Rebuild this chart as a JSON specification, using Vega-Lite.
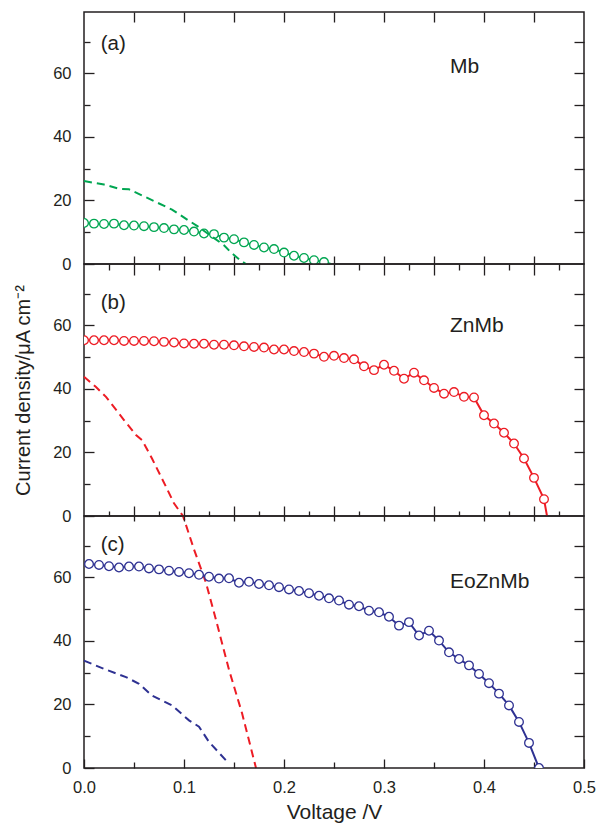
{
  "$schema": "https://vega.github.io/schema/vega-lite/v6.json",
  "padding": {"left": 12, "top": 10, "right": 5, "bottom": 0},
  "background": "white",
  "spacing": 0,
  "bounds": "flush",
  "config": {
    "font": "Liberation Sans",
    "view": {"stroke": "#231f20", "strokeWidth": 1.5},
    "axis": {"domain": false, "grid": false, "labelFlush": false, "labelFont": "Liberation Sans", "labelFontSize": 16.5, "labelColor": "#231f20", "tickColor": "#231f20", "tickWidth": 1.3, "titleFont": "Liberation Sans", "titleFontSize": 20, "titleFontWeight": "normal", "titleColor": "#231f20"},
    "text": {"font": "Liberation Sans", "color": "#231f20"}
  },
  "datasets": {
    "mb": [
      {"V": 0.0, "J": 12.9, "m": 1}, {"V": 0.01, "J": 12.7, "m": 1}, {"V": 0.02, "J": 12.6, "m": 1}, {"V": 0.03, "J": 12.7, "m": 1}, {"V": 0.04, "J": 12.2, "m": 1},
      {"V": 0.05, "J": 12.1, "m": 1}, {"V": 0.06, "J": 11.9, "m": 1}, {"V": 0.07, "J": 11.6, "m": 1}, {"V": 0.08, "J": 11.3, "m": 1}, {"V": 0.09, "J": 10.9, "m": 1},
      {"V": 0.1, "J": 10.7, "m": 1}, {"V": 0.11, "J": 10.2, "m": 1}, {"V": 0.12, "J": 9.6, "m": 1}, {"V": 0.13, "J": 9.4, "m": 1}, {"V": 0.14, "J": 8.3, "m": 1},
      {"V": 0.15, "J": 7.8, "m": 1}, {"V": 0.16, "J": 6.8, "m": 1}, {"V": 0.17, "J": 6.0, "m": 1}, {"V": 0.18, "J": 5.2, "m": 1}, {"V": 0.19, "J": 4.7, "m": 1},
      {"V": 0.2, "J": 3.6, "m": 1}, {"V": 0.21, "J": 2.6, "m": 1}, {"V": 0.22, "J": 1.9, "m": 1}, {"V": 0.23, "J": 1.2, "m": 1}, {"V": 0.24, "J": 0.6, "m": 1},
      {"V": 0.247, "J": 0.0, "m": 0}
    ],
    "mb_dark": [
      {"V": 0.0, "J": 26.1}, {"V": 0.02, "J": 25.0}, {"V": 0.035, "J": 23.7}, {"V": 0.045, "J": 23.5}, {"V": 0.06, "J": 21.3}, {"V": 0.088, "J": 17.1},
      {"V": 0.105, "J": 13.6}, {"V": 0.113, "J": 12.0}, {"V": 0.14, "J": 5.9}, {"V": 0.147, "J": 3.6}, {"V": 0.157, "J": 1.0}, {"V": 0.162, "J": 0.0}
    ],
    "zn": [
      {"V": 0.0, "J": 55.3, "m": 1}, {"V": 0.01, "J": 55.3, "m": 1}, {"V": 0.02, "J": 55.3, "m": 1}, {"V": 0.03, "J": 55.3, "m": 1}, {"V": 0.04, "J": 55.1, "m": 1},
      {"V": 0.05, "J": 55.1, "m": 1}, {"V": 0.06, "J": 55.1, "m": 1}, {"V": 0.07, "J": 55.0, "m": 1}, {"V": 0.08, "J": 54.8, "m": 1}, {"V": 0.09, "J": 54.6, "m": 1},
      {"V": 0.1, "J": 54.3, "m": 1}, {"V": 0.11, "J": 54.2, "m": 1}, {"V": 0.12, "J": 54.2, "m": 1}, {"V": 0.13, "J": 53.9, "m": 1}, {"V": 0.14, "J": 53.9, "m": 1},
      {"V": 0.15, "J": 53.7, "m": 1}, {"V": 0.16, "J": 53.4, "m": 1}, {"V": 0.17, "J": 53.2, "m": 1}, {"V": 0.18, "J": 53.0, "m": 1}, {"V": 0.19, "J": 52.4, "m": 1},
      {"V": 0.2, "J": 52.4, "m": 1}, {"V": 0.21, "J": 51.9, "m": 1}, {"V": 0.22, "J": 51.6, "m": 1}, {"V": 0.23, "J": 51.1, "m": 1}, {"V": 0.24, "J": 50.1, "m": 1},
      {"V": 0.25, "J": 50.4, "m": 1}, {"V": 0.26, "J": 49.7, "m": 1}, {"V": 0.27, "J": 49.3, "m": 1}, {"V": 0.28, "J": 47.1, "m": 1}, {"V": 0.29, "J": 45.9, "m": 1},
      {"V": 0.3, "J": 47.6, "m": 1}, {"V": 0.31, "J": 45.7, "m": 1}, {"V": 0.32, "J": 43.2, "m": 1}, {"V": 0.33, "J": 45.1, "m": 1}, {"V": 0.34, "J": 42.7, "m": 1},
      {"V": 0.35, "J": 40.3, "m": 1}, {"V": 0.36, "J": 38.5, "m": 1}, {"V": 0.37, "J": 39.0, "m": 1}, {"V": 0.38, "J": 37.5, "m": 1}, {"V": 0.39, "J": 37.3, "m": 1},
      {"V": 0.4, "J": 31.7, "m": 1}, {"V": 0.41, "J": 29.1, "m": 1}, {"V": 0.42, "J": 26.2, "m": 1}, {"V": 0.43, "J": 22.8, "m": 1}, {"V": 0.44, "J": 18.1, "m": 1},
      {"V": 0.45, "J": 12.0, "m": 1}, {"V": 0.46, "J": 5.3, "m": 1}, {"V": 0.463, "J": 0.0, "m": 0}
    ],
    "zn_dark": [
      {"V": 0.0, "J": 43.8}, {"V": 0.012, "J": 40.6}, {"V": 0.022, "J": 37.5}, {"V": 0.04, "J": 30.2}, {"V": 0.052, "J": 25.5}, {"V": 0.058, "J": 23.9},
      {"V": 0.068, "J": 18.1}, {"V": 0.082, "J": 9.2}, {"V": 0.09, "J": 4.0}, {"V": 0.099, "J": 0.0}, {"V": 0.11, "J": -10.5}, {"V": 0.122, "J": -21.0},
      {"V": 0.132, "J": -32.7}, {"V": 0.145, "J": -48.4}, {"V": 0.158, "J": -62.0}, {"V": 0.172, "J": -79.3}
    ],
    "eo": [
      {"V": 0.005, "J": 64.2, "m": 1}, {"V": 0.015, "J": 63.9, "m": 1}, {"V": 0.025, "J": 63.5, "m": 1}, {"V": 0.035, "J": 63.1, "m": 1}, {"V": 0.045, "J": 63.4, "m": 1},
      {"V": 0.055, "J": 63.4, "m": 1}, {"V": 0.065, "J": 62.8, "m": 1}, {"V": 0.075, "J": 62.5, "m": 1}, {"V": 0.085, "J": 62.1, "m": 1}, {"V": 0.095, "J": 61.7, "m": 1},
      {"V": 0.105, "J": 61.3, "m": 1}, {"V": 0.115, "J": 60.8, "m": 1}, {"V": 0.125, "J": 60.2, "m": 1}, {"V": 0.135, "J": 59.6, "m": 1}, {"V": 0.145, "J": 59.7, "m": 1},
      {"V": 0.155, "J": 58.3, "m": 1}, {"V": 0.165, "J": 58.6, "m": 1}, {"V": 0.175, "J": 57.9, "m": 1}, {"V": 0.185, "J": 57.5, "m": 1}, {"V": 0.195, "J": 56.9, "m": 1},
      {"V": 0.205, "J": 56.2, "m": 1}, {"V": 0.215, "J": 55.7, "m": 1}, {"V": 0.225, "J": 55.0, "m": 1}, {"V": 0.235, "J": 54.2, "m": 1}, {"V": 0.245, "J": 53.4, "m": 1},
      {"V": 0.255, "J": 52.7, "m": 1}, {"V": 0.265, "J": 51.4, "m": 1}, {"V": 0.275, "J": 50.9, "m": 1}, {"V": 0.285, "J": 49.5, "m": 1}, {"V": 0.295, "J": 49.0, "m": 1},
      {"V": 0.305, "J": 47.6, "m": 1}, {"V": 0.315, "J": 44.8, "m": 1}, {"V": 0.325, "J": 45.9, "m": 1}, {"V": 0.335, "J": 41.7, "m": 1}, {"V": 0.345, "J": 43.2, "m": 1},
      {"V": 0.355, "J": 40.1, "m": 1}, {"V": 0.365, "J": 36.4, "m": 1}, {"V": 0.375, "J": 34.3, "m": 1}, {"V": 0.385, "J": 32.3, "m": 1}, {"V": 0.395, "J": 29.6, "m": 1},
      {"V": 0.405, "J": 26.7, "m": 1}, {"V": 0.415, "J": 23.4, "m": 1}, {"V": 0.425, "J": 19.7, "m": 1}, {"V": 0.435, "J": 14.5, "m": 1}, {"V": 0.445, "J": 7.9, "m": 1},
      {"V": 0.455, "J": 0.0, "m": 1}
    ],
    "eo_dark": [
      {"V": 0.0, "J": 33.8}, {"V": 0.02, "J": 31.2}, {"V": 0.042, "J": 28.6}, {"V": 0.055, "J": 26.5}, {"V": 0.068, "J": 22.8}, {"V": 0.088, "J": 19.7},
      {"V": 0.105, "J": 15.0}, {"V": 0.115, "J": 13.0}, {"V": 0.125, "J": 8.2}, {"V": 0.142, "J": 2.4}
    ]
  },
  "vconcat": [
    {
      "width": 500, "height": 252,
      "resolve": {"axis": {"x": "independent", "y": "independent"}},
      "layer": [
        {
          "data": {"name": "mb"},
          "mark": {"type": "line", "color": "#00a651", "strokeWidth": 2, "clip": true},
          "encoding": {
            "x": {"field": "V", "type": "quantitative", "scale": {"domain": [0, 0.5], "nice": false}, "axis": {"orient": "bottom", "values": [0.05, 0.1, 0.15, 0.2, 0.25, 0.3, 0.35, 0.4, 0.45], "tickSize": -8, "labels": false, "title": null}},
            "y": {"field": "J", "type": "quantitative", "scale": {"domain": [0, 79.3], "nice": false, "zero": false}, "axis": {"orient": "left", "values": [0, 10, 20, 30, 40, 50, 60, 70], "labelExpr": "datum.value % 20 == 0 ? datum.label : ''", "tickSize": {"condition": {"test": "datum.value % 20 == 0", "value": -10}, "value": -6}, "labelPadding": 23, "title": null}}
          }
        },
        {
          "data": {"name": "mb"},
          "transform": [{"filter": "datum.m == 1"}],
          "mark": {"type": "point", "shape": "circle", "filled": false, "fill": "white", "fillOpacity": 1, "stroke": "#00a651", "strokeWidth": 1.3, "size": 75, "opacity": 1, "clip": true},
          "encoding": {
            "x": {"field": "V", "type": "quantitative", "scale": {"domain": [0, 0.5], "nice": false}, "axis": {"orient": "top", "values": [0.05, 0.1, 0.15, 0.2, 0.25, 0.3, 0.35, 0.4, 0.45], "tickSize": -10, "labels": false, "title": null}},
            "y": {"field": "J", "type": "quantitative", "scale": {"domain": [0, 79.3], "nice": false, "zero": false}, "axis": {"orient": "right", "values": [10, 20, 30, 40, 50, 60, 70], "tickSize": -10, "labels": false, "title": null}}
          }
        },
        {
          "data": {"name": "mb_dark"},
          "mark": {"type": "line", "color": "#00a651", "strokeWidth": 2, "strokeDash": [8, 5], "clip": false},
          "encoding": {
            "x": {"field": "V", "type": "quantitative", "scale": {"domain": [0, 0.5], "nice": false}, "axis": null},
            "y": {"field": "J", "type": "quantitative", "scale": {"domain": [0, 79.3], "nice": false, "zero": false}, "axis": null}
          }
        },
        {
          "data": {"values": [{}]},
          "mark": {"type": "text", "align": "left", "baseline": "middle", "fontSize": 20.5},
          "encoding": {
            "x": {"datum": 0.0167, "type": "quantitative", "scale": {"domain": [0, 0.5], "nice": false}, "axis": null},
            "y": {"datum": 69.2, "type": "quantitative", "scale": {"domain": [0, 79.3], "nice": false, "zero": false}, "axis": null},
            "text": {"value": "(a)"}
          }
        },
        {
          "data": {"values": [{}]},
          "mark": {"type": "text", "align": "left", "baseline": "middle", "fontSize": 21},
          "encoding": {
            "x": {"datum": 0.366, "type": "quantitative", "scale": {"domain": [0, 0.5], "nice": false}, "axis": null},
            "y": {"datum": 61.9, "type": "quantitative", "scale": {"domain": [0, 79.3], "nice": false, "zero": false}, "axis": null},
            "text": {"value": "Mb"}
          }
        }
      ]
    },
    {
      "width": 500, "height": 252,
      "resolve": {"axis": {"x": "independent", "y": "independent"}},
      "layer": [
        {
          "data": {"name": "zn"},
          "mark": {"type": "line", "color": "#ed1c24", "strokeWidth": 2, "clip": true},
          "encoding": {
            "x": {"field": "V", "type": "quantitative", "scale": {"domain": [0, 0.5], "nice": false}, "axis": {"orient": "bottom", "values": [0.025, 0.05, 0.075, 0.1, 0.125, 0.15, 0.175, 0.2, 0.225, 0.25, 0.275, 0.3, 0.325, 0.35, 0.375, 0.4, 0.425, 0.45, 0.475], "tickSize": {"condition": {"test": "round(datum.value*1000) % 50 == 0", "value": -10}, "value": -5}, "labels": false, "title": null}},
            "y": {"field": "J", "type": "quantitative", "scale": {"domain": [0, 79.3], "nice": false, "zero": false}, "axis": {"orient": "left", "values": [0, 10, 20, 30, 40, 50, 60, 70], "labelExpr": "datum.value % 20 == 0 ? datum.label : ''", "tickSize": {"condition": {"test": "datum.value % 20 == 0", "value": -10}, "value": -6}, "labelPadding": 23, "title": "Current density/μA cm⁻²", "titlePadding": 19}}
          }
        },
        {
          "data": {"name": "zn"},
          "transform": [{"filter": "datum.m == 1"}],
          "mark": {"type": "point", "shape": "circle", "filled": false, "fill": "white", "fillOpacity": 1, "stroke": "#ed1c24", "strokeWidth": 1.3, "size": 75, "opacity": 1, "clip": true},
          "encoding": {
            "x": {"field": "V", "type": "quantitative", "scale": {"domain": [0, 0.5], "nice": false}, "axis": {"orient": "top", "values": [0.025, 0.05, 0.075, 0.1, 0.125, 0.15, 0.175, 0.2, 0.225, 0.25, 0.275, 0.3, 0.325, 0.35, 0.375, 0.4, 0.425, 0.45, 0.475], "tickSize": {"condition": {"test": "round(datum.value*1000) % 50 == 0", "value": -11}, "value": -6}, "labels": false, "title": null}},
            "y": {"field": "J", "type": "quantitative", "scale": {"domain": [0, 79.3], "nice": false, "zero": false}, "axis": {"orient": "right", "values": [10, 20, 30, 40, 50, 60, 70], "tickSize": -10, "labels": false, "title": null}}
          }
        },
        {
          "data": {"name": "zn_dark"},
          "mark": {"type": "line", "color": "#ed1c24", "strokeWidth": 2, "strokeDash": [8, 5], "clip": false},
          "encoding": {
            "x": {"field": "V", "type": "quantitative", "scale": {"domain": [0, 0.5], "nice": false}, "axis": null},
            "y": {"field": "J", "type": "quantitative", "scale": {"domain": [0, 79.3], "nice": false, "zero": false}, "axis": null}
          }
        },
        {
          "data": {"values": [{}]},
          "mark": {"type": "text", "align": "left", "baseline": "middle", "fontSize": 20.5},
          "encoding": {
            "x": {"datum": 0.0167, "type": "quantitative", "scale": {"domain": [0, 0.5], "nice": false}, "axis": null},
            "y": {"datum": 66.9, "type": "quantitative", "scale": {"domain": [0, 79.3], "nice": false, "zero": false}, "axis": null},
            "text": {"value": "(b)"}
          }
        },
        {
          "data": {"values": [{}]},
          "mark": {"type": "text", "align": "left", "baseline": "middle", "fontSize": 21},
          "encoding": {
            "x": {"datum": 0.366, "type": "quantitative", "scale": {"domain": [0, 0.5], "nice": false}, "axis": null},
            "y": {"datum": 59.9, "type": "quantitative", "scale": {"domain": [0, 79.3], "nice": false, "zero": false}, "axis": null},
            "text": {"value": "ZnMb"}
          }
        }
      ]
    },
    {
      "width": 500, "height": 252,
      "resolve": {"axis": {"x": "independent", "y": "independent"}},
      "layer": [
        {
          "data": {"name": "eo"},
          "mark": {"type": "line", "color": "#2e3192", "strokeWidth": 2, "clip": true},
          "encoding": {
            "x": {"field": "V", "type": "quantitative", "scale": {"domain": [0, 0.5], "nice": false}, "axis": {"orient": "bottom", "values": [0, 0.05, 0.1, 0.15, 0.2, 0.25, 0.3, 0.35, 0.4, 0.45, 0.5], "labelExpr": "round(datum.value*100) % 10 == 0 ? format(datum.value, '.1f') : ''", "labelFlush": false, "tickSize": {"condition": {"test": "round(datum.value*100) % 10 == 0", "value": -9}, "value": -6}, "labelPadding": 20, "title": "Voltage /V", "titleFontSize": 21, "titlePadding": 6}},
            "y": {"field": "J", "type": "quantitative", "scale": {"domain": [0, 79.3], "nice": false, "zero": false}, "axis": {"orient": "left", "values": [0, 10, 20, 30, 40, 50, 60, 70], "labelExpr": "datum.value % 20 == 0 ? datum.label : ''", "tickSize": {"condition": {"test": "datum.value % 20 == 0", "value": -10}, "value": -6}, "labelPadding": 23, "title": null}}
          }
        },
        {
          "data": {"name": "eo"},
          "transform": [{"filter": "datum.m == 1"}],
          "mark": {"type": "point", "shape": "circle", "filled": false, "fill": "white", "fillOpacity": 1, "stroke": "#2e3192", "strokeWidth": 1.3, "size": 75, "opacity": 1, "clip": true},
          "encoding": {
            "x": {"field": "V", "type": "quantitative", "scale": {"domain": [0, 0.5], "nice": false}, "axis": {"orient": "top", "values": [0.05, 0.1, 0.15, 0.2, 0.25, 0.3, 0.35, 0.4, 0.45], "tickSize": -5, "labels": false, "title": null}},
            "y": {"field": "J", "type": "quantitative", "scale": {"domain": [0, 79.3], "nice": false, "zero": false}, "axis": {"orient": "right", "values": [10, 20, 30, 40, 50, 60, 70], "tickSize": -10, "labels": false, "title": null}}
          }
        },
        {
          "data": {"name": "eo_dark"},
          "mark": {"type": "line", "color": "#2e3192", "strokeWidth": 2, "strokeDash": [8, 5], "clip": false},
          "encoding": {
            "x": {"field": "V", "type": "quantitative", "scale": {"domain": [0, 0.5], "nice": false}, "axis": null},
            "y": {"field": "J", "type": "quantitative", "scale": {"domain": [0, 79.3], "nice": false, "zero": false}, "axis": null}
          }
        },
        {
          "data": {"values": [{}]},
          "mark": {"type": "text", "align": "left", "baseline": "middle", "fontSize": 20.5},
          "encoding": {
            "x": {"datum": 0.0167, "type": "quantitative", "scale": {"domain": [0, 0.5], "nice": false}, "axis": null},
            "y": {"datum": 70.3, "type": "quantitative", "scale": {"domain": [0, 79.3], "nice": false, "zero": false}, "axis": null},
            "text": {"value": "(c)"}
          }
        },
        {
          "data": {"values": [{}]},
          "mark": {"type": "text", "align": "left", "baseline": "middle", "fontSize": 21},
          "encoding": {
            "x": {"datum": 0.366, "type": "quantitative", "scale": {"domain": [0, 0.5], "nice": false}, "axis": null},
            "y": {"datum": 58.6, "type": "quantitative", "scale": {"domain": [0, 79.3], "nice": false, "zero": false}, "axis": null},
            "text": {"value": "EoZnMb"}
          }
        }
      ]
    }
  ]
}
